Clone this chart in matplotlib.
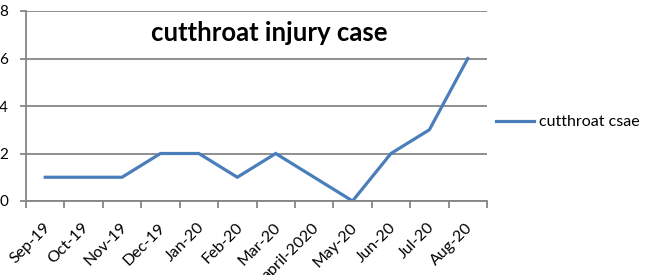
import matplotlib
matplotlib.use("Agg")
import matplotlib.pyplot as plt
import matplotlib.transforms as mtransforms
import numpy as np

months = ["Sep-19", "Oct-19", "Nov-19", "Dec-19", "Jan-20", "Feb-20", "Mar-20",
          "april-2020", "May-20", "Jun-20", "Jul-20", "Aug-20"]
cases = [1, 1, 1, 2, 2, 1, 2, 1, 0, 2, 3, 6]
yticks = [0, 2, 4, 6, 8]

plt.rcParams['font.family'] = ['Lato', 'DejaVu Sans']

fig = plt.figure(figsize=(6.46, 2.75), dpi=100)
ax = fig.add_axes([26/646, 74/275, (487-26)/646, (201-11)/275])

x = np.arange(len(months))
ax.plot(x, cases, color="#4A7EBB", lw=2.3, label="cutthroat csae", solid_joinstyle="miter")

ax.set_xlim(-0.5, len(months) - 0.5)
ax.set_ylim(0, 8)
ax.set_yticks(yticks)
ax.set_yticklabels([str(v) for v in yticks], fontsize=11)
ax.yaxis.grid(True, color="#868686", lw=1.3)
ax.set_axisbelow(True)

ax.set_xticks(x)
ax.set_xticklabels(months, rotation=45, ha="right", va="center",
                   rotation_mode="anchor", fontsize=11.5)
ax.set_xticks(np.arange(-0.5, len(months)), minor=True)
ax.tick_params(axis="x", which="major", length=0, pad=17.5)
ax.tick_params(axis="x", which="minor", length=5, color="#868686", width=1.3)
ax.tick_params(axis="y", length=4, color="#868686", width=1.3, pad=9)
offset = mtransforms.ScaledTranslation(3/100, 0, fig.dpi_scale_trans)
for lab in ax.get_xticklabels():
    lab.set_transform(lab.get_transform() + offset)

for s in ["top", "right"]:
    ax.spines[s].set_visible(False)
for s in ["left", "bottom"]:
    ax.spines[s].set_color("#868686")
    ax.spines[s].set_linewidth(1.3)

fig.text(269/646, 1 - 33/275, "cutthroat injury case", fontsize=18.5, fontweight="bold",
         ha="center", va="center")

fig.legend(loc="center left", bbox_to_anchor=(496/646, 1 - 122/275), frameon=False,
           fontsize=11.5, handlelength=2.4, handletextpad=0.3,
           borderpad=0, borderaxespad=0)

fig.savefig("out.png", dpi=100)
